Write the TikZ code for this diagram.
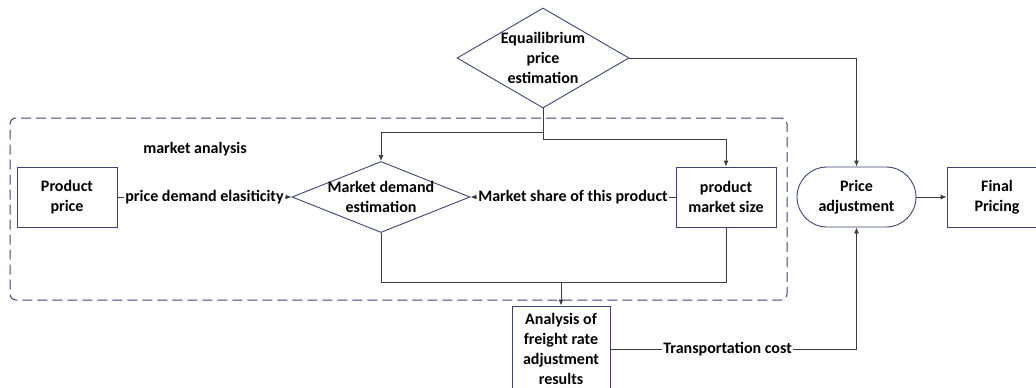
\documentclass[tikz,border=0pt]{standalone}
\usepackage{fontspec}
\setmainfont{Carlito}
\usetikzlibrary{shapes.geometric,shapes.misc,arrows.meta}
\definecolor{navy}{HTML}{3A4573}
\definecolor{lin}{HTML}{3C3C3C}
\tikzset{
  shp/.style={draw=navy, line width=0.9pt, inner sep=0pt, align=center},
  boxn/.style={shp, rectangle, minimum width=100pt, minimum height=60pt},
  diam/.style={shp, diamond},
  txt/.style={align=center, font=\fontsize{16}{20}\selectfont\bfseries, text=black, inner sep=0pt},
  line/.style={draw=lin, line width=0.9pt},
  conn/.style={line, -{Latex[length=6pt,width=5pt]}},
  lab/.style={txt, fill=white, inner sep=1pt},
  frame/.style={draw=navy, line width=1pt, dash pattern=on 10pt off 5pt, rounded corners=6pt}
}
\begin{document}
\begin{tikzpicture}[x=1pt,y=-1pt]
\useasboundingbox (0,0) rectangle (1036,388);
% frame
\node[frame, minimum width=777pt, minimum height=182pt, inner sep=0pt] (ma) at (398.5,209) {};
\node[txt] (mal) at (195,149) {market analysis};
% nodes
\node[diam, minimum width=172pt, minimum height=100pt] (eq) at (543,58) {};
\node[txt] (eqt) at (eq.center) {Equailibrium\\price\\estimation};
\node[diam, minimum width=178pt, minimum height=71pt] (md) at (381,197) {};
\node[txt] (mdt) at (md.center) {Market demand\\estimation};
\node[boxn] (pp) at (67,197) {};
\node[txt] (ppt) at (pp.center) {Product\\price};
\node[boxn] (pms) at (726,197) {};
\node[txt] (pmst) at (pms.center) {product\\market size};
\node[shp, rounded rectangle, minimum width=119pt, minimum height=60pt] (pa) at (856.5,197) {};
\node[txt] (pat) at (pa.center) {Price\\adjustment};
\node[boxn] (fp) at (997,197) {};
\node[txt] (fpt) at (fp.center) {Final\\Pricing};
\node[boxn, minimum width=98pt, minimum height=86pt] (an) at (561,349) {};
\node[txt] (ant) at (an.center) {Analysis of\\freight rate\\adjustment\\results};
% connectors
\coordinate (b1) at (543,132);
\coordinate (b2) at (543,139);
\draw[conn] (eq.south) -- (b1) -| (md.north);
\draw[conn] (b1) -- (b2) -| (pms.north);
\draw[conn] (pp.east) -- node[lab] {price demand elasiticity} (md.west);
\draw[conn] (pms.west) -- node[lab] {Market share of this product} (md.east);
\coordinate (m) at (561,282);
\draw[line] (md.south) |- (m);
\draw[line] (pms.south) |- (m);
\draw[conn] (m) -- (an.north);
\draw[conn] (eq.east) -| (pa.north);
\coordinate (c) at (pa.south |- an.east);
\draw[line] (an.east) -- node[lab, pos=0.476] {Transportation cost} (c);
\draw[conn] (c) -- (pa.south);
\draw[conn] (pa.east) -- (fp.west);
\end{tikzpicture}
\end{document}
